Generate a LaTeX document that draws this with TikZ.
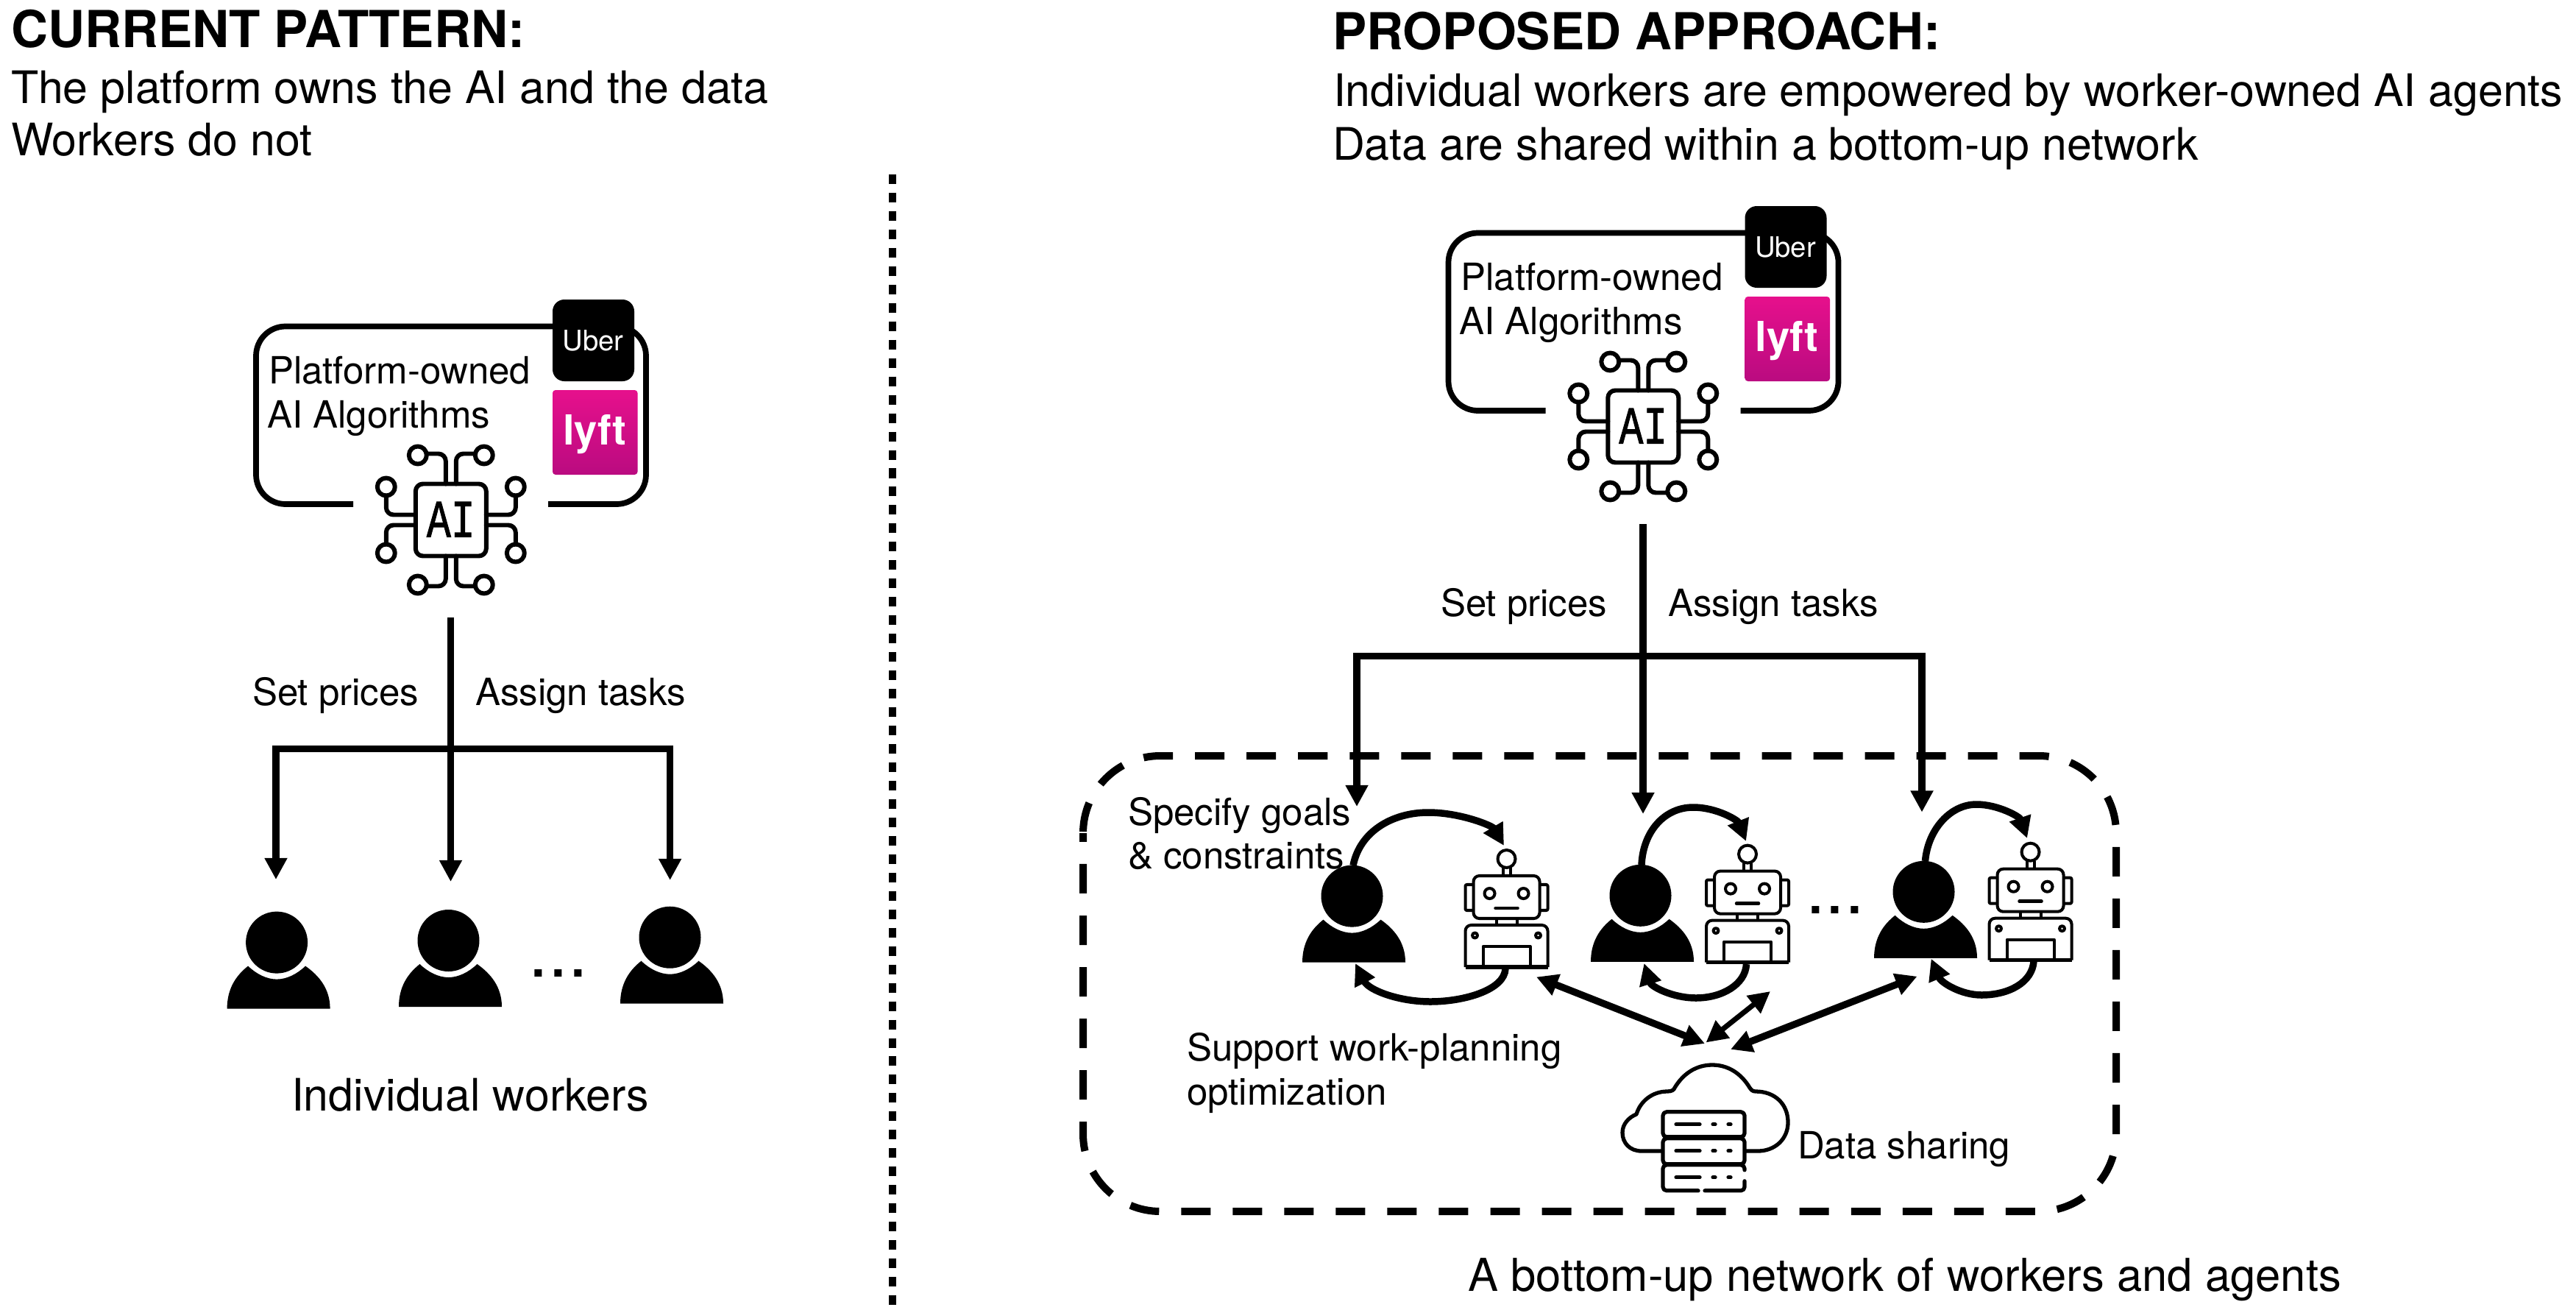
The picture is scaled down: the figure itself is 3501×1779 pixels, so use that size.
\documentclass[tikz,border=0pt]{standalone}
\usepackage{fontspec}
\usepackage{graphicx}
\setmainfont{TeX Gyre Heros}
\newfontfamily\aifont[FakeBold=1.6]{Liberation Mono}
\usetikzlibrary{arrows.meta}
\definecolor{lyfttop}{HTML}{E6108C}
\definecolor{lyftbot}{HTML}{BA0B80}
\newcommand{\fhead}{\fontsize{19.7pt}{19.7pt}\selectfont\bfseries}
\newcommand{\fbig}{\fontsize{17.3pt}{17.3pt}\selectfont}
\newcommand{\fmed}{\fontsize{14.5pt}{14.5pt}\selectfont}
\tikzset{
  x=0.01cm,y=-0.01cm,
  lbl/.style={anchor=base west,inner sep=0pt,outer sep=0pt,font=\fmed},
  big/.style={anchor=base west,inner sep=0pt,outer sep=0pt,font=\fbig},
  headline/.style={anchor=base west,inner sep=0pt,outer sep=0pt,font=\fhead},
  dots/.style={anchor=base,inner sep=0pt,outer sep=0pt,font=\fontsize{27.3pt}{27.3pt}\selectfont},
  conn/.style={line width=2.7pt,line join=miter},
  tipped/.style={conn,-{Triangle[length=8.3pt,width=8.3pt]}},
  both/.style={conn,{Triangle[length=8.3pt,width=8.3pt]}-{Triangle[length=8.3pt,width=8.3pt]}},
  icon/.style={line width=1.7pt,line cap=round,line join=round},
  rob/.style={line width=1.15pt,line join=round},
  person/.pic={
    \fill (-2.5,-90) circle (42);
    \fill (-70,0) .. controls (-70,-27) and (-58,-45) .. (-41.5,-58)
      .. controls (-30,-47) and (-16,-40) .. (-2.5,-40)
      .. controls (11,-40) and (25,-47) .. (36.5,-58)
      .. controls (55,-45) and (70,-27) .. (70,0) -- cycle;
  },
  robot/.pic={
    \draw[rob] (0,-147) circle (12);
    \draw[rob] (-5,-135) -- (-5,-124) (5,-135) -- (5,-124);
    \draw[rob,rounded corners=0.08cm] (-45,-124) rectangle (45,-66);
    \draw[rob,rounded corners=0.02cm] (-45,-112) -- (-56,-112) -- (-56,-77) -- (-45,-77);
    \draw[rob,rounded corners=0.02cm] (45,-112) -- (56,-112) -- (56,-77) -- (45,-77);
    \draw[rob] (-23,-100) circle (7) (23,-100) circle (7);
    \draw[rob,line width=1.3pt,line cap=round] (-15,-80) -- (15,-80);
    \draw[rob] (-14,-66) -- (-14,-57) (14,-66) -- (14,-57);
    \draw[rob,rounded corners=0.08cm] (-56,0) -- (-56,-57) -- (56,-57) -- (56,0);
    \draw[rob,line width=1.5pt] (-56,0) -- (56,0);
    \draw[rob] (-43,-43) circle (3.5) (43,-43) circle (3.5);
    \draw[rob] (-32,0) -- (-32,-28) -- (32,-28) -- (32,0);
  },
  aichip/.pic={
    \draw[icon,rounded corners=0.1cm] (-48,-49) rectangle (48,49);
    \foreach \sx in {-1,1} \foreach \sy in {-1,1} {
      \draw[icon] (\sx*45,\sy*88) circle (12);
      \draw[icon] (\sx*88,\sy*45) circle (12);
      \draw[icon,rounded corners=0.1cm] (\sx*7,\sy*49) -- (\sx*7,\sy*90) -- (\sx*33,\sy*90);
      \draw[icon,rounded corners=0.1cm] (\sx*48,\sy*7) -- (\sx*88,\sy*7) -- (\sx*88,\sy*33);
    }
    \node[anchor=base,inner sep=0pt,font=\aifont\fontsize{20.5pt}{20.5pt}\selectfont] (aitxt) at (0,23) {\scalebox{0.76}[1]{AI}};
  },
  platform/.pic={
    \draw[line width=2.2pt,rounded corners=0.4cm] (480,685) -- (348,685) -- (348,443.5) -- (878,443.5) -- (878,685) -- (745,685);
    \fill[rounded corners=0.16cm] (751,407) rectangle (862,518);
    \node[anchor=base,inner sep=0pt,text=white,font=\fontsize{10.9pt}{10.9pt}\selectfont] (uber) at (806,476) {Uber};
    \shade[rounded corners=0.04cm,top color=lyfttop,bottom color=lyftbot] (751,530) rectangle (866.5,645);
    \node[anchor=base,inner sep=0pt,text=white,font=\fontsize{16pt}{16pt}\selectfont\bfseries] (lyft) at (808,604) {lyft};
    \node[lbl] (own1) at (365,521) {Platform-owned};
    \node[lbl] (own2) at (363,581) {AI Algorithms};
    \pic (chip) at (612.8,706.5) {aichip};
  },
  server/.pic={
    \draw[icon,line width=1.5pt,fill=white,rounded corners=0.05cm] (-56,-107) rectangle (55,-73);
    \draw[icon,line width=1.5pt,fill=white,rounded corners=0.05cm] (-56,-71) rectangle (55,-36);
    \draw[icon,line width=1.5pt,rounded corners=0.05cm] (55,-28) -- (55,-35) -- (-56,-35) -- (-56,0) -- (-8,0);
    \draw[icon,line width=1.5pt,rounded corners=0.05cm] (1,0) -- (55,0) -- (55,-13);
    \foreach \yy in {-90,-54,-18} {
      \draw[icon,line width=1.5pt] (-38,\yy) -- (-6,\yy);
      \draw[icon,line width=1.5pt] (12,\yy) -- (15,\yy);
      \draw[icon,line width=1.5pt] (33,\yy) -- (36,\yy);
    }
  },
}
\begin{document}
\begin{tikzpicture}
\useasboundingbox (0,0) rectangle (3501,1779);
% headings
\node[headline] (curh) at (15,65) {CURRENT PATTERN:};
\node[big] (cur1) at (15,140) {The platform owns the AI and the data};
\node[big] (cur2) at (15,212) {Workers do not};
\node[headline] (proh) at (1811,68) {PROPOSED APPROACH:};
\node[big] (pro1) at (1812,145) {Individual workers are empowered by worker-owned AI agents};
\node[big] (pro2) at (1811,217) {Data are shared within a bottom-up network};
% divider
\coordinate (divtop) at (1213,237);
\coordinate (divbot) at (1213,1775);
\draw[line width=3.1pt,dash pattern=on 3.7pt off 3.4pt] (divtop) -- (divbot);
% left panel
\pic (lplat) at (0,0) {platform};
\coordinate (ltr) at (612.5,839);
\coordinate (lj) at (612.5,1017.5);
\coordinate (lt1) at (375,1195);
\coordinate (lt2) at (612.5,1198);
\coordinate (lt3) at (910.6,1196);
\draw[tipped] (ltr) -- (lt2);
\draw[tipped] (lj) -| (lt1);
\draw[tipped] (lj) -| (lt3);
\node[lbl] (lset) at (343,958) {Set prices};
\node[lbl] (lass) at (646,958) {Assign tasks};
\pic (lw1) at (378.6,1370.6) {person};
\pic (lw2) at (612,1368) {person};
\pic (lw3) at (913,1363.7) {person};
\node[dots] (ldots) at (759,1327) {...};
\node[big] (lind) at (396,1509) {Individual workers};
% right panel
\pic (rplat) at (1620.5,-127) {platform};
\coordinate (rtr) at (2233,712);
\coordinate (rj) at (2233,891.7);
\coordinate (rt1) at (1844,1096);
\coordinate (rt2) at (2233,1106);
\coordinate (rt3) at (2612,1103.6);
\node[lbl] (rset) at (1958,837) {Set prices};
\node[lbl] (rass) at (2267,837) {Assign tasks};
% dashed frame
\draw[line width=2.85pt,dash pattern=on 11.38pt off 8.535pt,dash phase=19.35pt]
  (1472,1132) .. controls (1472,1074) and (1519,1027) .. (1577,1027) -- (2771,1027)
  .. controls (2829,1027) and (2876,1074) .. (2876,1132) -- (2876,1541)
  .. controls (2876,1599) and (2829,1646) .. (2771,1646) -- (1577,1646)
  .. controls (1519,1646) and (1472,1599) .. (1472,1541) -- (1472,1132);
\draw[tipped] (rtr) -- (rt2);
\draw[tipped] (rj) -| (rt1);
\draw[tipped] (rj) -| (rt3);
% workers and agents
\pic (rw1) at (1840,1307.6) {person};
\pic (rw2) at (2232,1306.8) {person};
\pic (rw3) at (2617,1301.8) {person};
\pic (ra1) at (2047.5,1314) {robot};
\pic (ra2) at (2375,1307.6) {robot};
\pic (ra3) at (2759.5,1304.7) {robot};
\node[dots] (rdots) at (2494,1241) {...};
% loops
\coordinate (w1s) at (1839,1176); \coordinate (a1t) at (2044,1149);
\coordinate (a1s) at (2046,1316); \coordinate (w1t) at (1842,1309);
\coordinate (w2s) at (2231,1175); \coordinate (a2t) at (2373,1143);
\coordinate (a2s) at (2373.5,1310); \coordinate (w2t) at (2234.4,1309);
\coordinate (w3s) at (2616.5,1170); \coordinate (a3t) at (2755,1139);
\coordinate (a3s) at (2764,1306); \coordinate (w3t) at (2624.6,1302.7);
\draw[tipped] (w1s) .. controls (1848,1130) and (1892,1104) .. (1941,1104) .. controls (1985,1104) and (2028,1122) .. (a1t);
\draw[tipped] (a1s) .. controls (2045,1345) and (1990,1361) .. (1944,1361) .. controls (1900,1361) and (1860,1345) .. (w1t);
\draw[tipped] (w2s) .. controls (2233,1130) and (2262,1097) .. (2301,1097) .. controls (2334,1097) and (2362,1115) .. (a2t);
\draw[tipped] (a2s) .. controls (2372,1338) and (2340,1356) .. (2305,1356) .. controls (2272,1356) and (2244,1340) .. (w2t);
\draw[tipped] (w3s) .. controls (2620,1128) and (2650,1093) .. (2686,1093) .. controls (2716,1093) and (2745,1110) .. (a3t);
\draw[tipped] (a3s) .. controls (2762,1335) and (2730,1352) .. (2693,1352) .. controls (2665,1352) and (2638,1335) .. (w3t);
% exchange arrows
\coordinate (dA) at (2088,1327.5); \coordinate (dAb) at (2317,1418);
\coordinate (dB) at (2406,1347); \coordinate (dBb) at (2318.5,1416.5);
\coordinate (dC) at (2605.5,1326.7); \coordinate (dCb) at (2352,1425.8);
\draw[both] (dA) -- (dAb);
\draw[both,line width=2pt] (dB) -- (dBb);
\draw[both] (dC) -- (dCb);
% cloud
\draw[icon,line width=1.5pt]
  (2260,1564) -- (2231,1564) .. controls (2215,1564) and (2205,1553) .. (2205,1539)
  .. controls (2205,1527) and (2214,1518) .. (2224,1514)
  .. controls (2229,1497) and (2245,1483) .. (2266,1483)
  .. controls (2272,1483) and (2275,1481) .. (2276,1478)
  .. controls (2288,1458) and (2306,1447) .. (2327,1447)
  .. controls (2348,1447) and (2366,1458) .. (2378,1478)
  .. controls (2380,1481) and (2382,1483) .. (2386,1483)
  .. controls (2412,1483) and (2430,1500) .. (2430,1525)
  .. controls (2430,1548) and (2412,1564) .. (2389,1564) -- (2371,1564);
\pic (srv) at (2316,1617.8) {server};
% labels
\node[lbl] (spec1) at (1533,1121) {Specify goals};
\node[lbl] (spec2) at (1533,1180) {\& constraints};
\node[lbl] (sup1) at (1613,1441) {Support work-planning};
\node[lbl] (sup2) at (1613,1501) {optimization};
\node[lbl] (dshare) at (2443,1574) {Data sharing};
\node[big] (bun) at (1995,1754.7) {\fontsize{17.5pt}{17.5pt}\selectfont A bottom-up network of workers and agents};
\end{tikzpicture}
\end{document}
